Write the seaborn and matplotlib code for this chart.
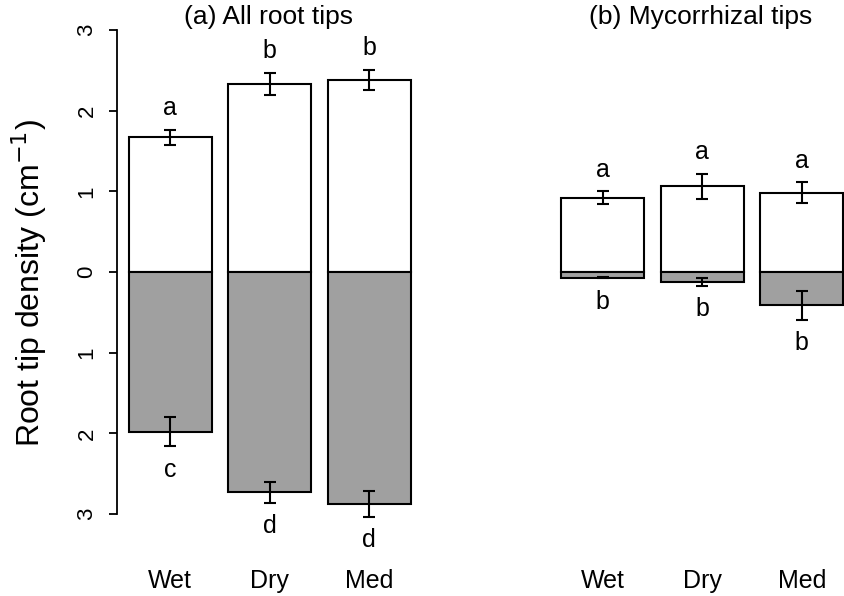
import matplotlib
matplotlib.use('Agg')

import pandas as pd
import matplotlib.pyplot as plt
import seaborn as sns
import numpy as np

# data
cats = ["Wet", "Dry", "Med"]

all_up = [1.67, 2.33, 2.38]
all_up_se = [0.09, 0.14, 0.12]
all_down = [1.98, 2.73, 2.87]
all_down_se = [0.18, 0.13, 0.16]
all_up_letters = ["a", "b", "b"]
all_down_letters = ["c", "d", "d"]

myc_up = [0.92, 1.06, 0.98]
myc_up_se = [0.08, 0.155, 0.13]
myc_down = [0.07, 0.125, 0.41]
myc_down_se = [0.01, 0.046, 0.18]
myc_up_letters = ["a", "a", "a"]
myc_down_letters = ["b", "b", "b"]

sns.set_style("white")
plt.rcParams['font.family'] = ['Liberation Sans', 'DejaVu Sans']
plt.rcParams['text.color'] = 'black'
plt.rcParams['xtick.color'] = 'black'
plt.rcParams['ytick.color'] = 'black'
plt.rcParams['axes.labelcolor'] = 'black'

fig = plt.figure(figsize=(8.44, 5.96), dpi=100)
W, H = 844., 596.
ax1 = fig.add_axes([117 / W, 1 - 530 / H, 303 / W, 510 / H])
ax2 = fig.add_axes([549.5 / W, 1 - 530 / H, 303 / W, 510 / H])

GREY = "#a0a0a0"
BW = 0.834


def panel(ax, up, up_se, down, down_se, up_lab, down_lab, title):
    df = pd.DataFrame({"cat": cats, "up": up, "down": -np.array(down)})
    sns.barplot(data=df, x="cat", y="up", color="white", edgecolor="black",
                linewidth=1.5, width=BW, saturation=1, ax=ax)
    sns.barplot(data=df, x="cat", y="down", color=GREY, edgecolor="black",
                linewidth=1.5, width=BW, saturation=1, ax=ax)
    x = np.arange(len(cats))
    ax.errorbar(x, up, yerr=up_se, fmt="none", ecolor="black", elinewidth=1.5,
                capsize=4, capthick=1.5, zorder=5)
    ax.errorbar(x, -np.array(down), yerr=down_se, fmt="none", ecolor="black",
                elinewidth=1.5, capsize=4, capthick=1.5, zorder=5)
    for i in range(len(cats)):
        ax.text(i, up[i] + up_se[i] + 0.27, up_lab[i], ha="center", va="center",
                fontsize=18)
        ax.text(i, -down[i] - down_se[i] - 0.29, down_lab[i], ha="center",
                va="center", fontsize=18)
    ax.set_xlim(-0.533, 2.51)
    ax.set_ylim(-3.197, 3.123)
    ax.set_xlabel("")
    ax.set_ylabel("")
    ax.text(0.5, 1.006, title, transform=ax.transAxes, ha="center", va="center",
            fontsize=19)
    ax.tick_params(axis="x", length=0, pad=28, labelsize=18)
    for s in ["top", "right", "bottom"]:
        ax.spines[s].set_visible(False)


panel(ax1, all_up, all_up_se, all_down, all_down_se, all_up_letters,
      all_down_letters, "(a) All root tips")
panel(ax2, myc_up, myc_up_se, myc_down, myc_down_se, myc_up_letters,
      myc_down_letters, "(b) Mycorrhizal tips")

ticks = [-3, -2, -1, 0, 1, 2, 3]
ax1.set_yticks(ticks)
ax1.set_yticklabels([str(abs(t)) for t in ticks], rotation=90, va="center",
                    fontsize=16)
ax1.tick_params(axis="y", length=6, width=1.3, pad=8, left=True)
ax1.spines["left"].set_bounds(-3, 3)
ax1.spines["left"].set_linewidth(1.3)
ax1.spines["left"].set_color("black")
ax1.set_ylabel("Root tip density (cm$^{-1}$)", fontsize=23)
ax1.yaxis.set_label_coords(-0.225, 0.485)

ax2.set_yticks([])
ax2.spines["left"].set_visible(False)

fig.savefig("out.png", dpi=100)
